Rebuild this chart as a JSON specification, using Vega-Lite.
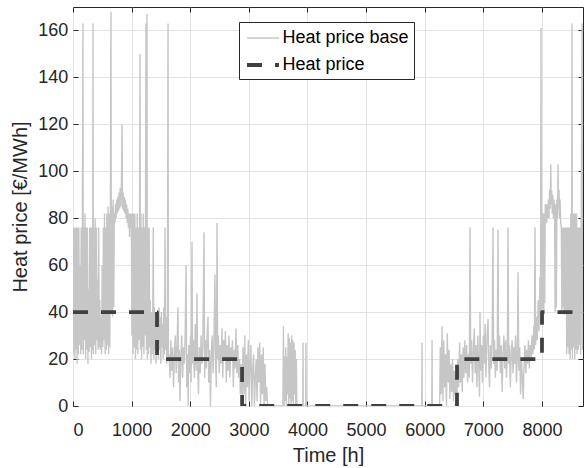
{
  "$schema": "https://vega.github.io/schema/vega-lite/v6.json",
  "width": 510,
  "height": 399,
  "autosize": {"type": "none"},
  "padding": {"left": 73, "top": 7, "right": 1, "bottom": 62},
  "background": "white",
  "config": {
    "font": "Liberation Sans",
    "view": {"stroke": "#262626", "strokeWidth": 1},
    "axis": {
      "labelFont": "Liberation Sans", "labelFontSize": 18, "labelColor": "#262626",
      "titleFont": "Liberation Sans", "titleFontSize": 20, "titleFontWeight": "normal", "titleColor": "#262626",
      "domain": false, "tickColor": "#262626", "tickSize": -5, "tickWidth": 1,
      "gridColor": "#e3e3e3", "gridWidth": 1, "gridOpacity": 1
    },
    "legend": {
      "labelFont": "Liberation Sans", "labelFontSize": 18, "labelColor": "#000000"
    }
  },
  "layer": [
    {
      "data": {"values": [
        {"t":0,"v":25},{"t":8,"v":76},{"t":16,"v":22},{"t":24,"v":76},{"t":32,"v":20},{"t":40,"v":76},{"t":50,"v":24},{"t":60,"v":76},{"t":70,"v":18},{"t":80,"v":76},{"t":90,"v":22},{"t":100,"v":76},{"t":110,"v":26},{"t":120,"v":60},{"t":130,"v":22},{"t":140,"v":76},{"t":150,"v":24},{"t":160,"v":76},{"t":170,"v":163},{"t":176,"v":22},{"t":185,"v":76},{"t":195,"v":28},{"t":205,"v":82},{"t":215,"v":20},{"t":225,"v":76},{"t":235,"v":24},{"t":245,"v":76},{"t":255,"v":18},{"t":265,"v":50},{"t":275,"v":23},{"t":285,"v":76},{"t":295,"v":25},{"t":305,"v":76},{"t":315,"v":20},{"t":325,"v":76},{"t":334,"v":24},{"t":341,"v":163},{"t":348,"v":22},{"t":358,"v":76},{"t":368,"v":26},{"t":378,"v":80},{"t":388,"v":22},{"t":398,"v":76},{"t":408,"v":28},{"t":418,"v":54},{"t":428,"v":24},{"t":438,"v":76},{"t":448,"v":25},{"t":458,"v":45},{"t":468,"v":24},{"t":478,"v":38},{"t":488,"v":22},{"t":498,"v":60},{"t":508,"v":25},{"t":518,"v":76},{"t":528,"v":28},{"t":538,"v":82},{"t":548,"v":22},{"t":558,"v":76},{"t":568,"v":24},{"t":578,"v":82},{"t":588,"v":26},{"t":598,"v":85},{"t":608,"v":22},{"t":618,"v":82},{"t":628,"v":25},{"t":638,"v":86},{"t":648,"v":168},{"t":655,"v":40},{"t":665,"v":85},{"t":675,"v":38},{"t":685,"v":88},{"t":695,"v":42},{"t":705,"v":82},
        {"t":715,"v":78},{"t":725,"v":86},{"t":735,"v":80},{"t":745,"v":88},{"t":755,"v":82},{"t":765,"v":89},{"t":775,"v":83},{"t":785,"v":91},{"t":795,"v":84},{"t":805,"v":93},{"t":815,"v":85},{"t":825,"v":92},{"t":836,"v":120},{"t":845,"v":84},{"t":855,"v":91},{"t":865,"v":83},{"t":875,"v":89},{"t":885,"v":82},{"t":895,"v":88},{"t":905,"v":80},{"t":915,"v":86},{"t":925,"v":78},{"t":935,"v":84},{"t":945,"v":76},{"t":955,"v":82},{"t":965,"v":72},{"t":975,"v":82},{"t":985,"v":76},{"t":995,"v":82},
        {"t":1005,"v":30},{"t":1015,"v":82},{"t":1025,"v":22},{"t":1035,"v":82},{"t":1045,"v":25},{"t":1055,"v":82},{"t":1065,"v":20},{"t":1075,"v":76},{"t":1085,"v":24},{"t":1095,"v":82},{"t":1105,"v":22},{"t":1115,"v":76},{"t":1125,"v":28},{"t":1135,"v":82},{"t":1143,"v":150},{"t":1150,"v":24},{"t":1160,"v":82},{"t":1170,"v":20},{"t":1180,"v":76},{"t":1190,"v":25},{"t":1200,"v":82},{"t":1210,"v":22},{"t":1220,"v":76},{"t":1230,"v":30},{"t":1238,"v":82},{"t":1245,"v":163},{"t":1252,"v":24},{"t":1262,"v":167},{"t":1268,"v":20},{"t":1278,"v":76},{"t":1288,"v":22},{"t":1298,"v":76},{"t":1308,"v":25},{"t":1318,"v":45},
        {"t":1330,"v":18},{"t":1340,"v":40},{"t":1350,"v":22},{"t":1360,"v":38},{"t":1370,"v":76},{"t":1378,"v":20},{"t":1388,"v":42},{"t":1398,"v":24},{"t":1408,"v":36},{"t":1418,"v":18},{"t":1428,"v":40},{"t":1438,"v":22},{"t":1448,"v":35},{"t":1458,"v":20},{"t":1468,"v":42},{"t":1478,"v":24},{"t":1488,"v":38},{"t":1498,"v":18},{"t":1508,"v":40},{"t":1518,"v":25},{"t":1528,"v":35},{"t":1538,"v":20},{"t":1548,"v":42},{"t":1558,"v":22},{"t":1570,"v":76},{"t":1578,"v":24},{"t":1590,"v":38},{"t":1600,"v":18},{"t":1610,"v":30},{"t":1621,"v":163},{"t":1628,"v":20},
        {"t":1640,"v":22},{"t":1655,"v":12},{"t":1670,"v":28},{"t":1685,"v":15},{"t":1700,"v":25},{"t":1715,"v":8},{"t":1730,"v":22},{"t":1745,"v":30},{"t":1760,"v":14},{"t":1775,"v":26},{"t":1791,"v":42},{"t":1800,"v":10},{"t":1815,"v":24},{"t":1825,"v":2},{"t":1840,"v":20},{"t":1855,"v":30},{"t":1870,"v":12},{"t":1885,"v":25},{"t":1900,"v":18},{"t":1915,"v":32},{"t":1928,"v":60},{"t":1940,"v":8},{"t":1955,"v":22},{"t":1965,"v":0},{"t":1975,"v":26},{"t":1990,"v":14},{"t":2005,"v":30},{"t":2015,"v":10},{"t":2030,"v":70},{"t":2040,"v":18},{"t":2055,"v":28},{"t":2070,"v":12},{"t":2085,"v":35},{"t":2100,"v":15},{"t":2115,"v":48},{"t":2125,"v":20},{"t":2140,"v":5},{"t":2155,"v":25},{"t":2170,"v":14},{"t":2185,"v":30},{"t":2200,"v":18},{"t":2215,"v":26},{"t":2235,"v":74},{"t":2245,"v":12},{"t":2260,"v":28},{"t":2275,"v":16},{"t":2290,"v":32},{"t":2303,"v":38},{"t":2315,"v":10},{"t":2330,"v":24},{"t":2345,"v":0},{"t":2360,"v":22},{"t":2375,"v":30},{"t":2390,"v":14},{"t":2405,"v":28},{"t":2422,"v":56},{"t":2432,"v":18},{"t":2445,"v":8},{"t":2457,"v":78},{"t":2467,"v":20},{"t":2480,"v":30},{"t":2495,"v":14},{"t":2510,"v":26},{"t":2525,"v":18},{"t":2542,"v":33},{"t":2555,"v":12},{"t":2570,"v":28},{"t":2585,"v":20},{"t":2600,"v":32},{"t":2615,"v":10},{"t":2630,"v":26},{"t":2645,"v":15},{"t":2660,"v":30},{"t":2675,"v":12},{"t":2690,"v":25},{"t":2705,"v":20},{"t":2720,"v":28},{"t":2735,"v":8},{"t":2750,"v":24},{"t":2765,"v":16},{"t":2780,"v":33},{"t":2795,"v":14},{"t":2810,"v":26},{"t":2825,"v":12},{"t":2840,"v":20},{"t":2855,"v":5},{"t":2870,"v":18},{"t":2885,"v":2},
        {"t":2900,"v":25},{"t":2915,"v":5},{"t":2930,"v":30},{"t":2945,"v":0},{"t":2960,"v":22},{"t":2975,"v":8},{"t":2990,"v":28},{"t":3005,"v":2},{"t":3020,"v":18},{"t":3035,"v":26},{"t":3050,"v":0},{"t":3065,"v":15},{"t":3080,"v":22},{"t":3095,"v":0},{"t":3110,"v":12},{"t":3125,"v":20},{"t":3140,"v":2},{"t":3155,"v":25},{"t":3170,"v":10},{"t":3185,"v":27},{"t":3200,"v":0},{"t":3215,"v":22},{"t":3230,"v":5},{"t":3245,"v":25},{"t":3260,"v":0},{"t":3275,"v":18},{"t":3290,"v":2},{"t":3305,"v":8},{"t":3320,"v":0},{"t":3580,"v":0},{"t":3590,"v":34},{"t":3600,"v":0},{"t":3610,"v":21},{"t":3620,"v":2},{"t":3630,"v":25},{"t":3640,"v":0},{"t":3650,"v":21},{"t":3660,"v":5},{"t":3670,"v":31},{"t":3680,"v":0},{"t":3690,"v":29},{"t":3700,"v":3},{"t":3710,"v":27},{"t":3720,"v":0},{"t":3730,"v":30},{"t":3740,"v":2},{"t":3750,"v":28},{"t":3760,"v":0},{"t":3770,"v":27},{"t":3780,"v":5},{"t":3790,"v":24},{"t":3800,"v":0},{"t":3810,"v":20},{"t":3820,"v":0},{"t":3920,"v":0},{"t":3924,"v":27},{"t":3928,"v":0},{"t":3971,"v":0},{"t":3975,"v":27},{"t":3979,"v":0},
        {"t":5950,"v":0},{"t":5954,"v":27},{"t":5958,"v":0},{"t":6121,"v":0},{"t":6125,"v":28},{"t":6129,"v":0},{"t":6255,"v":0},
        {"t":6265,"v":25},{"t":6280,"v":5},{"t":6295,"v":34},{"t":6310,"v":2},{"t":6325,"v":28},{"t":6340,"v":8},{"t":6355,"v":22},{"t":6370,"v":0},{"t":6385,"v":31},{"t":6400,"v":10},{"t":6415,"v":24},{"t":6430,"v":3},{"t":6445,"v":18},{"t":6460,"v":6},{"t":6475,"v":20},{"t":6490,"v":2},{"t":6505,"v":15},{"t":6520,"v":5},{"t":6535,"v":12},{"t":6550,"v":3},{"t":6565,"v":20},{"t":6580,"v":8},{"t":6595,"v":27},{"t":6610,"v":10},{"t":6625,"v":22},{"t":6640,"v":6},{"t":6655,"v":25},{"t":6670,"v":12},{"t":6685,"v":28},{"t":6700,"v":14},{"t":6715,"v":26},{"t":6730,"v":10},{"t":6745,"v":22},{"t":6760,"v":12},{"t":6773,"v":76},
        {"t":6785,"v":18},{"t":6800,"v":28},{"t":6815,"v":10},{"t":6830,"v":24},{"t":6845,"v":33},{"t":6860,"v":14},{"t":6875,"v":26},{"t":6890,"v":8},{"t":6905,"v":30},{"t":6920,"v":18},{"t":6935,"v":4},{"t":6943,"v":40},{"t":6955,"v":15},{"t":6970,"v":26},{"t":6985,"v":10},{"t":7000,"v":30},{"t":7015,"v":18},{"t":7030,"v":35},{"t":7045,"v":12},{"t":7060,"v":28},{"t":7080,"v":37},{"t":7090,"v":20},{"t":7105,"v":8},{"t":7120,"v":26},{"t":7135,"v":16},{"t":7150,"v":30},{"t":7165,"v":76},{"t":7175,"v":18},{"t":7190,"v":28},{"t":7205,"v":12},{"t":7220,"v":24},{"t":7235,"v":15},{"t":7250,"v":75},{"t":7260,"v":20},{"t":7275,"v":30},{"t":7290,"v":14},{"t":7305,"v":26},{"t":7320,"v":6},{"t":7335,"v":22},{"t":7350,"v":30},{"t":7365,"v":16},{"t":7380,"v":28},{"t":7395,"v":12},{"t":7410,"v":24},{"t":7421,"v":76},{"t":7432,"v":18},{"t":7445,"v":26},{"t":7460,"v":8},{"t":7475,"v":22},{"t":7490,"v":28},{"t":7505,"v":14},{"t":7520,"v":25},{"t":7535,"v":18},{"t":7550,"v":30},{"t":7565,"v":10},{"t":7580,"v":22},{"t":7592,"v":57},{"t":7605,"v":15},{"t":7620,"v":25},{"t":7635,"v":5},{"t":7650,"v":20},{"t":7665,"v":12},{"t":7680,"v":3},{"t":7695,"v":18},{"t":7710,"v":26},{"t":7725,"v":14},{"t":7740,"v":24},{"t":7755,"v":18},{"t":7770,"v":28},{"t":7785,"v":16},{"t":7800,"v":26},{"t":7815,"v":20},{"t":7830,"v":30},{"t":7845,"v":22},{"t":7860,"v":34},{"t":7870,"v":24},{"t":7882,"v":76},{"t":7892,"v":26},{"t":7905,"v":38},{"t":7920,"v":28},{"t":7935,"v":45},{"t":7950,"v":32},{"t":7965,"v":55},{"t":7975,"v":40},{"t":7984,"v":161},{"t":7992,"v":45},
        {"t":8000,"v":40},{"t":8008,"v":82},{"t":8016,"v":42},{"t":8024,"v":82},{"t":8032,"v":40},{"t":8040,"v":82},{"t":8048,"v":44},{"t":8056,"v":86},{"t":8064,"v":80},{"t":8072,"v":86},{"t":8080,"v":78},{"t":8090,"v":86},{"t":8100,"v":80},{"t":8110,"v":88},{"t":8120,"v":80},{"t":8130,"v":92},{"t":8140,"v":84},{"t":8150,"v":103},{"t":8158,"v":86},{"t":8166,"v":92},{"t":8175,"v":82},{"t":8185,"v":90},{"t":8195,"v":80},{"t":8205,"v":88},{"t":8215,"v":84},{"t":8225,"v":40},{"t":8235,"v":86},{"t":8245,"v":42},{"t":8255,"v":88},{"t":8265,"v":80},{"t":8275,"v":103},{"t":8283,"v":84},{"t":8291,"v":92},{"t":8300,"v":80},{"t":8310,"v":88},{"t":8320,"v":78},{"t":8330,"v":76},{"t":8340,"v":40},{"t":8350,"v":76},{"t":8360,"v":42},{"t":8370,"v":76},{"t":8380,"v":39},{"t":8390,"v":76},{"t":8400,"v":40},{"t":8412,"v":76},{"t":8422,"v":22},{"t":8432,"v":76},{"t":8442,"v":25},{"t":8452,"v":76},{"t":8462,"v":22},{"t":8472,"v":76},{"t":8482,"v":20},{"t":8492,"v":82},{"t":8502,"v":24},{"t":8513,"v":163},{"t":8520,"v":20},{"t":8530,"v":82},{"t":8540,"v":25},{"t":8550,"v":82},{"t":8560,"v":20},{"t":8570,"v":82},{"t":8580,"v":24},{"t":8590,"v":82},{"t":8600,"v":22},{"t":8610,"v":76},{"t":8620,"v":24},{"t":8630,"v":76},{"t":8640,"v":26},{"t":8650,"v":76},{"t":8660,"v":22},{"t":8670,"v":76},{"t":8684,"v":163},{"t":8690,"v":24},{"t":8700,"v":76}
      ]},
      "mark": {"type": "line", "clip": true, "strokeJoin": "miter"},
      "encoding": {
        "x": {"field": "t", "type": "quantitative",
          "scale": {"domain": [0, 8700], "nice": false, "zero": false},
          "axis": {"title": "Time [h]", "values": [0,1000,2000,3000,4000,5000,6000,7000,8000], "format": "d",
                   "labelPadding": 20.5, "titlePadding": 6, "grid": true, "orient": "bottom"}},
        "y": {"field": "v", "type": "quantitative",
          "scale": {"domain": [0, 170], "nice": false},
          "axis": {"title": "Heat price [€/MWh]", "values": [0,20,40,60,80,100,120,140,160], "format": "d",
                   "labelPadding": 10.3, "titlePadding": 7.5, "grid": true, "orient": "left"}},
        "color": {"datum": "Heat price base", "type": "nominal",
          "scale": {"domain": ["Heat price base", "Heat price"], "range": ["#c6c6c6", "#404040"]},
          "legend": {"title": null, "orient": "none", "legendX": 166, "legendY": 15,
            "symbolType": "M-1.6,0H1.6", "symbolSize": 400, "symbolOffset": 7,
            "labelOffset": 7.5, "rowPadding": 6, "padding": 5,
            "fillColor": "white", "strokeColor": "#262626", "labelFontSize": 18, "labelBaseline": "middle"}},
        "strokeDash": {"datum": "Heat price base", "type": "nominal",
          "scale": {"domain": ["Heat price base", "Heat price"], "range": [[1, 0], [15, 13]]},
          "legend": null},
        "strokeWidth": {"datum": "Heat price base", "type": "nominal",
          "scale": {"domain": ["Heat price base", "Heat price"], "range": [1.4, 3.8]},
          "legend": null}
      }
    },
    {
      "data": {"values": [
        {"t":0,"v":40},{"t":1433,"v":40},{"t":1434,"v":20},{"t":2884,"v":20},{"t":2885,"v":0},{"t":6550,"v":0},{"t":6551,"v":20},{"t":8000,"v":20},{"t":8001,"v":40},{"t":8700,"v":40}
      ]},
      "mark": {"type": "line", "clip": true, "strokeCap": "butt", "strokeJoin": "round"},
      "encoding": {
        "x": {"field": "t", "type": "quantitative",
          "axis": {"title": null, "orient": "top", "labels": false, "grid": false,
                   "values": [0,1000,2000,3000,4000,5000,6000,7000,8000]}},
        "y": {"field": "v", "type": "quantitative",
          "axis": {"title": null, "orient": "right", "labels": false, "grid": false,
                   "values": [0,20,40,60,80,100,120,140,160]}},
        "color": {"datum": "Heat price", "type": "nominal"},
        "strokeDash": {"datum": "Heat price", "type": "nominal"},
        "strokeWidth": {"datum": "Heat price", "type": "nominal"}
      }
    }
  ],
  "resolve": {"axis": {"x": "independent", "y": "independent"}}
}
